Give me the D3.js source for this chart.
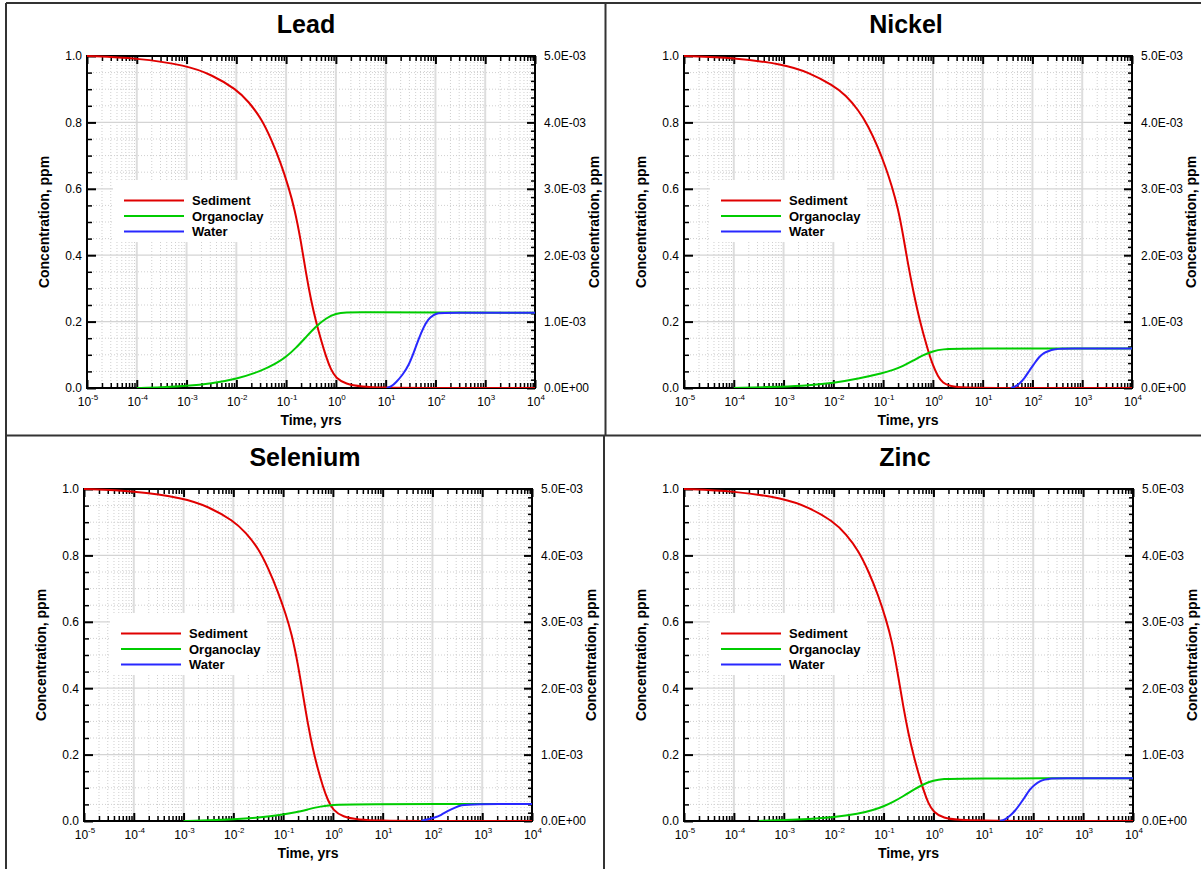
<!DOCTYPE html>
<html><head><meta charset="utf-8">
<script src="https://cdn.jsdelivr.net/npm/d3@7"></script>
<style>
body{margin:0;background:#fff;}
svg{display:block;font-family:"Liberation Sans",Arial,sans-serif;}
</style>
</head><body>
<svg id="c" width="1201" height="869"></svg>
<script>
// ---------------- DATA ----------------
const panelTitles = ["Lead", "Nickel", "Selenium", "Zinc"];
const seriesNames = ["Sediment", "Organoclay", "Water"];
const seriesColors = ["#e00000", "#00cc00", "#2828ff"];
const leftTicks = [0, 0.2, 0.4, 0.6, 0.8, 1.0];
const leftTickLabels = ["0.0", "0.2", "0.4", "0.6", "0.8", "1.0"];
const rightTicks = [0, 1e-3, 2e-3, 3e-3, 4e-3, 5e-3];
const rightTickLabels = ["0.0E+00", "1.0E-03", "2.0E-03", "3.0E-03", "4.0E-03", "5.0E-03"];
const xTickExponents = [-5, -4, -3, -2, -1, 0, 1, 2, 3, 4];
const xAxisTitle = "Time, yrs";
const yAxisTitle = "Concentration, ppm";

// shared time samples for the sediment curves (yrs)
const sedimentT = [1e-5, 1e-4, 1e-3, 3.16e-3, 0.01, 0.0178, 0.0316, 0.0501, 0.0794, 0.112, 0.148, 0.2, 0.251, 0.316, 0.398, 0.501, 0.631, 0.794, 1.0, 1.585, 3.16, 10, 31.6, 1e4];

// Lead
const leadSedimentT = sedimentT;
const leadSedimentV = [1.0, 0.994, 0.972, 0.944, 0.900, 0.862, 0.812, 0.75, 0.675, 0.605, 0.54, 0.44, 0.345, 0.265, 0.2, 0.145, 0.095, 0.055, 0.03, 0.012, 0.004, 0.001, 0, 0];
const leadOrganoclayT = [1e-4, 3.16e-4, 1e-3, 3.16e-3, 0.01, 0.0316, 0.0631, 0.1, 0.158, 0.251, 0.398, 0.631, 1.0, 1.585, 3.16, 100, 1e4];
const leadOrganoclayV = [0, 0.002, 0.006, 0.0135, 0.027, 0.051, 0.0735, 0.0935, 0.1205, 0.1535, 0.1855, 0.2105, 0.2245, 0.228, 0.228, 0.227, 0.227];
const leadWaterT = [10.5, 13, 16, 22, 29, 37, 46, 58, 72, 90, 115, 150, 1e4];
const leadWaterV = [0, 0.02e-3, 0.08e-3, 0.2e-3, 0.34e-3, 0.54e-3, 0.74e-3, 0.92e-3, 1.04e-3, 1.1e-3, 1.13e-3, 1.135e-3, 1.135e-3];

// Nickel
const nickelSedimentT = [1e-5, 1e-4, 1e-3, 3.16e-3, 0.01, 0.0178, 0.0316, 0.0501, 0.0794, 0.112, 0.148, 0.2, 0.251, 0.316, 0.398, 0.537, 0.794, 1.0, 1.26, 1.58, 2.24, 3.98, 20, 1e4];
const nickelSedimentV = [1.0, 0.995, 0.975, 0.951, 0.911, 0.882, 0.838, 0.79, 0.724, 0.666, 0.611, 0.54, 0.463, 0.373, 0.296, 0.205, 0.114, 0.068, 0.035, 0.015, 0.005, 0.001, 0, 0];
const nickelOrganoclayT = [1e-4, 1e-3, 3.16e-3, 0.01, 0.0316, 0.1, 0.158, 0.251, 0.398, 0.631, 1.0, 1.585, 3.16, 1e4];
const nickelOrganoclayV = [0, 0.004, 0.008, 0.015, 0.028, 0.045, 0.054, 0.066, 0.082, 0.099, 0.111, 0.117, 0.119, 0.119];
const nickelWaterT = [37, 45, 54, 70, 86, 110, 136, 170, 215, 270, 340, 450, 1e4];
const nickelWaterV = [0, 0.02e-3, 0.06e-3, 0.15e-3, 0.26e-3, 0.37e-3, 0.47e-3, 0.53e-3, 0.56e-3, 0.58e-3, 0.59e-3, 0.595e-3, 0.595e-3];

// Selenium
const seleniumSedimentT = sedimentT;
const seleniumSedimentV = [1.0, 0.994, 0.973, 0.947, 0.905, 0.869, 0.822, 0.762, 0.69, 0.625, 0.565, 0.47, 0.38, 0.29, 0.215, 0.155, 0.103, 0.062, 0.033, 0.012, 0.004, 0.001, 0, 0];
const seleniumOrganoclayT = [1e-3, 3.16e-3, 0.01, 0.0316, 0.1, 0.178, 0.316, 0.562, 1.0, 2.0, 1e4];
const seleniumOrganoclayV = [0, 0.002, 0.005, 0.01, 0.019, 0.026, 0.035, 0.044, 0.049, 0.051, 0.051];
const seleniumWaterT = [60, 75, 112, 150, 200, 280, 375, 600, 1e4];
const seleniumWaterV = [0, 0.02e-3, 0.05e-3, 0.09e-3, 0.15e-3, 0.2e-3, 0.24e-3, 0.255e-3, 0.255e-3];

// Zinc
const zincSedimentT = sedimentT;
const zincSedimentV = [1.0, 0.994, 0.972, 0.945, 0.902, 0.864, 0.814, 0.752, 0.678, 0.607, 0.542, 0.43, 0.34, 0.262, 0.198, 0.143, 0.093, 0.052, 0.027, 0.008, 0.003, 0.001, 0, 0];
const zincOrganoclayT = [3.16e-4, 1e-3, 3.16e-3, 0.01, 0.0316, 0.0631, 0.1, 0.158, 0.251, 0.398, 0.631, 1.0, 1.585, 3.16, 1e4];
const zincOrganoclayV = [0, 0.003, 0.006, 0.011, 0.022, 0.033, 0.044, 0.058, 0.075, 0.094, 0.111, 0.122, 0.127, 0.1285, 0.1285];
const zincWaterT = [21.5, 27, 34, 43, 54, 68, 86, 108, 136, 170, 215, 270, 1e4];
const zincWaterV = [0, 0.02e-3, 0.075e-3, 0.15e-3, 0.25e-3, 0.36e-3, 0.48e-3, 0.55e-3, 0.6e-3, 0.625e-3, 0.638e-3, 0.643e-3, 0.643e-3];

// ---------------- LAYOUT ----------------
const panels = [
  {title: panelTitles[0], px0: 6, px1: 606, py0: 3, L: 87, R: 535, T: 56, B: 388,
   sed: [leadSedimentT, leadSedimentV], org: [leadOrganoclayT, leadOrganoclayV], wat: [leadWaterT, leadWaterV]},
  {title: panelTitles[1], px0: 606, px1: 1206, py0: 3, L: 684, R: 1132, T: 56, B: 388,
   sed: [nickelSedimentT, nickelSedimentV], org: [nickelOrganoclayT, nickelOrganoclayV], wat: [nickelWaterT, nickelWaterV]},
  {title: panelTitles[2], px0: 6, px1: 604, py0: 436, L: 84, R: 532, T: 489, B: 821,
   sed: [seleniumSedimentT, seleniumSedimentV], org: [seleniumOrganoclayT, seleniumOrganoclayV], wat: [seleniumWaterT, seleniumWaterV]},
  {title: panelTitles[3], px0: 604, px1: 1206, py0: 436, L: 684, R: 1133, T: 489, B: 821,
   sed: [zincSedimentT, zincSedimentV], org: [zincOrganoclayT, zincOrganoclayV], wat: [zincWaterT, zincWaterV]}
];

const svg = d3.select("#c");
svg.append("rect").attr("width", 1201).attr("height", 869).attr("fill", "#fff");

// panel frames
const frame = svg.append("g").attr("stroke", "#333").attr("stroke-width", 2).attr("fill", "none");
frame.append("line").attr("x1", 6).attr("x2", 1201).attr("y1", 3).attr("y2", 3);
frame.append("line").attr("x1", 6).attr("x2", 6).attr("y1", 3).attr("y2", 869);
frame.append("line").attr("x1", 6).attr("x2", 1201).attr("y1", 435.5).attr("y2", 435.5);
frame.append("line").attr("x1", 605.5).attr("x2", 605.5).attr("y1", 3).attr("y2", 436);
frame.append("line").attr("x1", 604).attr("x2", 604).attr("y1", 436).attr("y2", 869);

const zip = (a, b) => a.map((t, i) => ({t: t, v: b[i]}));

panels.forEach((p, pi) => {
  const g = svg.append("g");
  const x = d3.scaleLog().domain([1e-5, 1e4]).range([p.L, p.R]);
  const yL = d3.scaleLinear().domain([0, 1]).range([p.B, p.T]);
  const yR = d3.scaleLinear().domain([0, 5e-3]).range([p.B, p.T]);

  const xMinor = [];
  for (let e = -5; e < 4; e++) for (let k = 2; k <= 9; k++) xMinor.push(k * Math.pow(10, e));
  const xMajor = xTickExponents.map(e => Math.pow(10, e));
  const yMinor = d3.range(0, 21).map(i => i * 0.05).filter(v => Math.abs(v / 0.2 - Math.round(v / 0.2)) > 1e-6);
  const yRMinor = d3.range(0, 41).map(i => i * 0.125e-3).filter(v => Math.abs(v / 1e-3 - Math.round(v / 1e-3)) > 1e-6);

  // grid
  const grid = g.append("g");
  grid.selectAll(".vmin").data(xMinor).join("line")
    .attr("x1", d => x(d)).attr("x2", d => x(d)).attr("y1", p.T).attr("y2", p.B)
    .attr("stroke", "#cfcfcf").attr("stroke-width", 1).attr("stroke-dasharray", "1,2");
  grid.selectAll(".hmin").data(yMinor).join("line")
    .attr("x1", p.L).attr("x2", p.R).attr("y1", d => yL(d)).attr("y2", d => yL(d))
    .attr("stroke", "#cfcfcf").attr("stroke-width", 1).attr("stroke-dasharray", "1,2");
  grid.selectAll(".vmaj").data(xMajor.slice(1, -1)).join("line")
    .attr("x1", d => x(d)).attr("x2", d => x(d)).attr("y1", p.T).attr("y2", p.B)
    .attr("stroke", "#dddddd").attr("stroke-width", 2);
  grid.selectAll(".hmaj").data(leftTicks.slice(1, -1)).join("line")
    .attr("x1", p.L).attr("x2", p.R).attr("y1", d => yL(d)).attr("y2", d => yL(d))
    .attr("stroke", "#d4d4d4").attr("stroke-width", 1.3);

  // legend box background
  g.append("rect").attr("x", p.L + 26).attr("y", p.T + 124).attr("width", 157).attr("height", 62).attr("fill", "#fff");

  // axes
  const tickStyle = (sel, w) => { sel.select(".domain").remove(); sel.selectAll(".tick line").attr("stroke", "#000").attr("stroke-width", w); };
  const labelStyle = s => s.selectAll("text").attr("font-size", 12).attr("fill", "#000").attr("font-family", "Liberation Sans, Arial, sans-serif");
  g.append("g").attr("transform", `translate(${p.L},0)`)
    .call(d3.axisLeft(yL).tickValues(yMinor).tickSize(-5).tickFormat(""))
    .call(s => tickStyle(s, 1.5));
  g.append("g").attr("transform", `translate(${p.L},0)`)
    .call(d3.axisLeft(yL).tickValues(leftTicks).tickSize(-9).tickPadding(5).tickFormat((d, i) => leftTickLabels[i]))
    .call(s => tickStyle(s, 2)).call(labelStyle);
  g.append("g").attr("transform", `translate(${p.R},0)`)
    .call(d3.axisRight(yR).tickValues(yRMinor).tickSize(-4).tickFormat(""))
    .call(s => tickStyle(s, 1.5));
  g.append("g").attr("transform", `translate(${p.R},0)`)
    .call(d3.axisRight(yR).tickValues(rightTicks).tickSize(-8).tickPadding(9).tickFormat((d, i) => rightTickLabels[i]))
    .call(s => tickStyle(s, 2)).call(labelStyle);
  g.append("g").attr("transform", `translate(0,${p.B})`)
    .call(d3.axisBottom(x).tickValues(xMinor).tickSize(-5).tickFormat(""))
    .call(s => tickStyle(s, 1.5));
  g.append("g").attr("transform", `translate(0,${p.B})`)
    .call(d3.axisBottom(x).tickValues(xMajor).tickSize(-8).tickFormat(""))
    .call(s => tickStyle(s, 2));
  g.append("g").attr("transform", `translate(0,${p.T})`)
    .call(d3.axisTop(x).tickValues(xMinor).tickSize(-5).tickFormat(""))
    .call(s => tickStyle(s, 1.5));
  g.append("g").attr("transform", `translate(0,${p.T})`)
    .call(d3.axisTop(x).tickValues(xMajor).tickSize(-8).tickFormat(""))
    .call(s => tickStyle(s, 2));

  // x tick labels with superscript exponents
  xTickExponents.forEach(e => {
    const t = g.append("text").attr("x", x(Math.pow(10, e)) + 1).attr("y", p.B + 18)
      .attr("text-anchor", "middle").attr("font-size", 12).attr("fill", "#000");
    t.append("tspan").text("10");
    t.append("tspan").attr("dy", -6).attr("font-size", 8).text(String(e));
  });

  // plot frame
  g.append("rect").attr("x", p.L).attr("y", p.T).attr("width", p.R - p.L).attr("height", p.B - p.T)
    .attr("fill", "none").attr("stroke", "#000").attr("stroke-width", 2);

  // curves
  const cid = "clip" + pi;
  g.append("clipPath").attr("id", cid).append("rect")
    .attr("x", p.L).attr("y", p.T - 1).attr("width", p.R - p.L).attr("height", p.B - p.T + 1);
  const cg = g.append("g").attr("clip-path", `url(#${cid})`);
  const lineL = d3.line().x(d => x(d.t)).y(d => yL(d.v)).curve(d3.curveBasis);
  const lineR = d3.line().x(d => x(d.t)).y(d => yR(d.v)).curve(d3.curveBasis);
  cg.append("path").datum(zip(p.sed[0], p.sed[1])).attr("d", lineL)
    .attr("fill", "none").attr("stroke", seriesColors[0]).attr("stroke-width", 2);
  cg.append("path").datum(zip(p.org[0], p.org[1])).attr("d", lineL)
    .attr("fill", "none").attr("stroke", seriesColors[1]).attr("stroke-width", 2);
  cg.append("path").datum(zip(p.wat[0], p.wat[1])).attr("d", lineR)
    .attr("fill", "none").attr("stroke", seriesColors[2]).attr("stroke-width", 2);

  // legend items
  seriesNames.forEach((n, i) => {
    const yy = p.T + 144.5 + i * 15.5;
    g.append("line").attr("x1", p.L + 37).attr("x2", p.L + 97).attr("y1", yy).attr("y2", yy)
      .attr("stroke", seriesColors[i]).attr("stroke-width", 2);
    g.append("text").attr("x", p.L + 105).attr("y", yy + 4.5).attr("font-size", 13)
      .attr("font-weight", "bold").attr("fill", "#000").text(n);
  });

  // titles
  g.append("text").attr("x", (p.px0 + p.px1) / 2).attr("y", p.py0 + 30)
    .attr("text-anchor", "middle").attr("font-size", 25).attr("font-weight", "bold").attr("fill", "#000")
    .text(p.title);
  g.append("text").attr("x", (p.L + p.R) / 2).attr("y", p.B + 37)
    .attr("text-anchor", "middle").attr("font-size", 14).attr("font-weight", "bold").attr("fill", "#000")
    .text(xAxisTitle);
  const ym = (p.T + p.B) / 2;
  g.append("text").attr("transform", `translate(${p.L - 38},${ym}) rotate(-90)`)
    .attr("text-anchor", "middle").attr("font-size", 14).attr("font-weight", "bold").attr("fill", "#000")
    .text(yAxisTitle);
  g.append("text").attr("transform", `translate(${p.R + 64},${ym}) rotate(-90)`)
    .attr("text-anchor", "middle").attr("font-size", 14).attr("font-weight", "bold").attr("fill", "#000")
    .text(yAxisTitle);
});
</script>
</body></html>
